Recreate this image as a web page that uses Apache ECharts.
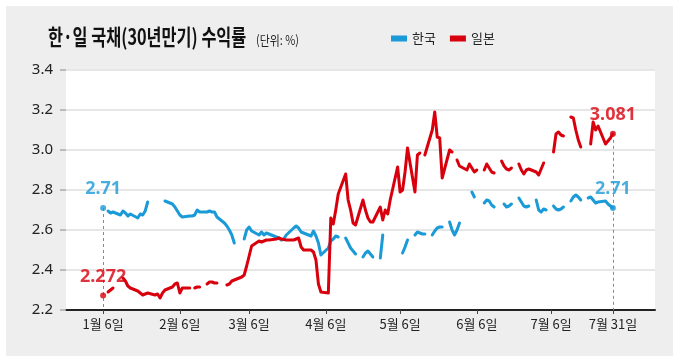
<!DOCTYPE html>
<html><head><meta charset="utf-8">
<script src="https://cdn.jsdelivr.net/npm/echarts@6/dist/echarts.min.js"></script>
<style>html,body{margin:0;padding:0;background:#fff}#c{width:680px;height:358px}</style>
</head><body><div id="c"></div>
<script>
// ---- data ----
// Calendar days starting Monday 2025-01-06, one row per week (Mon..Sun).
// number = yield (%), empty slot = no quote (line continues), null = line break
const startDate = '2025-01-06';
const korea = [
  2.71, null, 2.695, 2.685, 2.69, , ,
  2.675, 2.695, 2.685, 2.67, 2.68, , ,
  2.66, 2.68, 2.675, 2.695, 2.74, , ,
  null, null, null, null, 2.745, , ,
  2.73, 2.715, 2.695, 2.675, 2.665, , ,
  2.67, 2.67, 2.675, 2.70, 2.69, , ,
  2.69, 2.695, 2.69, 2.69, 2.665, , ,
  2.635, 2.62, 2.60, 2.575, 2.535, , ,
  null, 2.555, 2.60, 2.615, 2.595, , ,
  2.575, 2.59, 2.575, 2.585, 2.58, , ,
  2.565, 2.56, 2.55, 2.555, 2.575, , ,
  2.61, 2.62, 2.61, 2.59, 2.585, , ,
  2.57, 2.595, 2.57, 2.535, 2.475, , ,
  2.51, 2.545, 2.555, 2.57, 2.565, null, ,
  2.56, 2.535, 2.51, 2.495, 2.48, null, ,
  2.465, 2.485, 2.495, 2.48, 2.465, null, ,
  2.46, 2.575, null, null, null, null, ,
  null, null, 2.485, 2.515, 2.55, null, ,
  2.575, 2.59, 2.585, 2.58, 2.58, null, ,
  2.575, 2.595, 2.61, 2.615, 2.615, null, ,
  2.64, 2.60, 2.575, 2.60, 2.635, null, ,
  null, null, 2.79, 2.765, null, null, ,
  2.735, 2.75, 2.745, 2.725, 2.715, null, ,
  null, 2.73, 2.715, 2.72, 2.73, null, ,
  2.76, 2.74, 2.72, 2.715, 2.72, null, ,
  2.75, 2.70, 2.69, 2.705, 2.70, null, ,
  2.72, 2.705, 2.70, 2.705, 2.715, null, ,
  2.745, 2.765, 2.775, 2.765, 2.75, null, ,
  2.76, 2.765, 2.75, 2.735, 2.74, , ,
  2.745, 2.73, 2.72, 2.71
];
const japan = [
  2.272, null, 2.29, 2.30, 2.31, , ,
  null, 2.36, 2.345, 2.32, 2.31, , ,
  2.295, 2.285, 2.275, 2.28, 2.285, , ,
  2.275, 2.28, 2.26, 2.285, 2.30, , ,
  2.315, 2.33, 2.335, 2.285, 2.31, , ,
  2.31, null, 2.31, 2.315, 2.315, null, ,
  2.33, 2.34, 2.34, 2.335, 2.335, , ,
  null, 2.325, 2.33, 2.345, 2.35, , ,
  2.365, 2.375, 2.42, 2.47, 2.52, , ,
  2.545, 2.54, 2.545, 2.55, 2.55, , ,
  2.555, 2.56, 2.555, , 2.55, , ,
  2.55, 2.555, 2.56, 2.515, 2.50, , ,
  2.50, 2.49, 2.45, 2.33, 2.29, , ,
  2.285, 2.66, 2.63, 2.70, 2.78, , ,
  2.88, 2.75, 2.70, 2.635, 2.625, , ,
  2.75, 2.70, 2.66, 2.64, 2.64, , ,
  2.715, 2.65, 2.70, 2.68, 2.75, , ,
  2.915, 2.79, 2.80, 2.89, 3.01, , ,
  2.79, 2.975, 2.985, null, 2.975, , ,
  3.10, 3.19, 3.065, 3.06, 2.86, , ,
  3.00, 2.99, null, 2.95, 2.92, , ,
  2.90, 2.93, 2.91, 2.89, 2.90, null, ,
  2.90, 2.93, 2.91, 2.89, 2.885, null, ,
  2.945, 2.92, 2.905, 2.90, 2.91, null, ,
  2.93, 2.90, 2.88, 2.90, 2.905, , ,
  2.89, 2.875, 2.905, 2.935, null, null, ,
  2.99, 3.08, 3.09, 3.075, 3.07, null, ,
  3.165, 3.16, 3.10, 3.05, 3.015, null, ,
  null, 3.03, 3.14, 3.10, 3.12, , ,
  3.03, 3.045, 3.06, 3.081
];
const tickDates = ['2025-01-06','2025-02-06','2025-03-06','2025-04-06','2025-05-06','2025-06-06','2025-07-06','2025-07-31'];
const tickLabels = ['1월 6일','2월 6일','3월 6일','4월 6일','5월 6일','6월 6일','7월 6일','7월 31일'];
const seriesNames = ['한국','일본'];
const titleText = '한·일 국채(30년만기) 수익률';
const unitText = '(단위: %)';
const axisStart = '2024-12-22', axisEnd = '2025-08-17';

// ---- build ----
const DAY = 86400000;
const iso = t => new Date(t).toISOString().slice(0,10);
const t0 = Date.parse(axisStart + 'T00:00:00Z'), t1 = Date.parse(axisEnd + 'T00:00:00Z');
const axisDates = [];
for (let t = t0; t <= t1; t += DAY) axisDates.push(iso(t));
const s0 = Date.parse(startDate + 'T00:00:00Z');
function toPairs(arr){
  const out = [];
  for (let i = 0; i < arr.length; i++) { if (!(i in arr)) continue; out.push([iso(s0 + i*DAY), arr[i]]); }
  return out;
}
const kData = toPairs(korea), jData = toPairs(japan);
const BLUE = '#1a9ad7', RED = '#d9000d';
const kFirst = kData[0], kLast = kData[kData.length-1];
const jFirst = jData[0], jLast = jData[jData.length-1];

const chart = echarts.init(document.getElementById('c'), null, {renderer:'canvas'});
const numFont = '"Liberation Sans Narrow", "Noto Sans", sans-serif';
const krFont = '"Noto Sans CJK KR", sans-serif';
chart.setOption({
  animation: false,
  graphic: [
    {type:'rect', shape:{x:6, y:6, width:667, height:350}, style:{fill:'#eeeeee'}, z:-100, silent:true},
    {type:'text', x:48, y:37, scaleX:0.74, style:{text:titleText, font:'bold 22px ' + krFont, fill:'#111', verticalAlign:'middle'}},
    {type:'text', x:256, y:40, scaleX:0.84, style:{text:unitText, font:'13px ' + krFont, fill:'#222', verticalAlign:'middle'}}
  ],
  legend: {
    left: 391, top: 32, padding: 0, itemWidth: 16, itemHeight: 6, itemGap: 14, icon: 'rect',
    data: seriesNames, textStyle: {fontFamily: krFont, fontSize: 13, color: '#222'}
  },
  grid: {left: 66, right: 25, top: 70, bottom: 48, show: true, backgroundColor: '#fff', borderWidth: 0},
  xAxis: {
    type: 'category', data: axisDates, boundaryGap: false,
    axisLine: {lineStyle: {color: '#222', width: 2}},
    axisTick: {interval: (i, v) => tickDates.includes(v), length: 4, lineStyle: {color: '#444'}},
    axisLabel: {interval: (i, v) => tickDates.includes(v), formatter: v => tickLabels[tickDates.indexOf(v)],
      fontFamily: krFont, fontSize: 13, color: '#222', margin: 8},
    splitLine: {show: false}
  },
  yAxis: {
    type: 'value', min: 2.2, max: 3.4, interval: 0.2,
    axisLine: {show: false},
    axisTick: {show: true, length: 6, lineStyle: {color: '#aaa', width: 1.5}},
    axisLabel: {formatter: v => v.toFixed(1), fontFamily: numFont, fontSize: 15, color: '#222', margin: 13},
    splitLine: {lineStyle: {color: '#e6e6e6', width: 2}}
  },
  series: [
    {name: seriesNames[0], type: 'line', data: kData, showSymbol: false, connectNulls: false, color: BLUE,
     lineStyle: {width: 3, cap: 'round', join: 'round'}, z: 3,
     markLine: {silent: true, symbol: 'none', label: {show: false}, animation: false,
       data: [
         [{coord: [kFirst[0], kFirst[1]], lineStyle: {type: [3,3], color: '#888', width: 1}}, {coord: [kFirst[0], 2.2]}],
         [{coord: [jLast[0], jLast[1]], lineStyle: {type: [3,3], color: '#888', width: 1}}, {coord: [jLast[0], 2.2]}],
         [{yAxis: 3.4, lineStyle: {type: 'solid', color: '#bcbcbc', width: 2.5}}, {yAxis: 3.4, x: 655}]
       ]}},
    {name: seriesNames[1], type: 'line', data: jData, showSymbol: false, connectNulls: false, color: RED,
     lineStyle: {width: 3, cap: 'round', join: 'round'}, z: 4},
    {type: 'scatter', data: [kFirst, kLast], symbolSize: 6, color: BLUE, z: 5,
     label: {show: true, position: 'top', distance: 7, formatter: p => String(p.value[1]),
       fontFamily: numFont, fontWeight: 'bold', fontSize: 18, color: BLUE}},
    {type: 'scatter', data: [jFirst, jLast], symbolSize: 6, color: RED, z: 5,
     label: {show: true, position: 'top', distance: 7, formatter: p => String(p.value[1]),
       fontFamily: numFont, fontWeight: 'bold', fontSize: 18, color: RED}}
  ]
});
</script></body></html>
